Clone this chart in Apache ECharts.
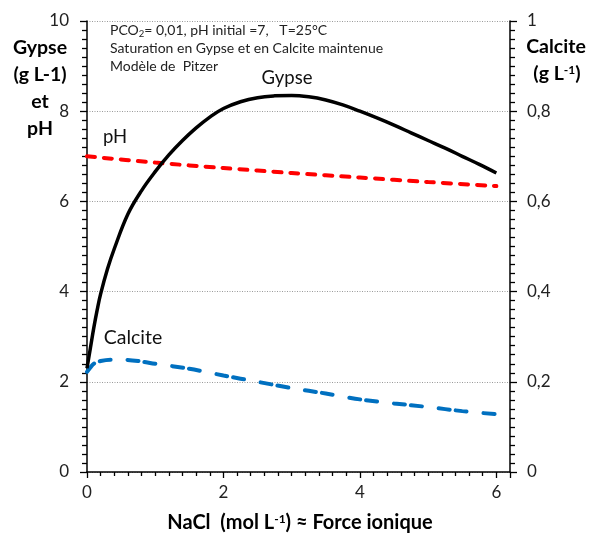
<!DOCTYPE html>
<html>
<head>
<meta charset="utf-8">
<script src="https://cdn.jsdelivr.net/npm/echarts@6/dist/echarts.min.js"></script>
<style>html,body{margin:0;padding:0;background:#fff}#c{width:603px;height:538px}</style>
</head>
<body>
<div id="c"></div>
<script>
// NaCl (mol/L) and values
const gypseX = [0, 0.05, 0.1, 0.15, 0.2, 0.3, 0.4, 0.6, 0.8, 1.0, 1.2, 1.4, 1.6, 1.8, 2.0, 2.25, 2.5, 2.75, 3.0, 3.25, 3.5, 3.75, 4.0, 4.25, 4.5, 4.75, 5.0, 5.25, 5.5, 5.75, 6.0];
const gypseY = [2.3, 2.75, 3.2, 3.6, 3.95, 4.5, 4.95, 5.72, 6.24, 6.66, 7.03, 7.35, 7.63, 7.87, 8.06, 8.21, 8.3, 8.34, 8.35, 8.32, 8.25, 8.14, 8.0, 7.85, 7.69, 7.52, 7.35, 7.18, 7.0, 6.82, 6.63];
const phX = [0, 1, 2, 3, 4, 5, 6];
const phY = [7.0, 6.86, 6.74, 6.63, 6.53, 6.43, 6.34];
const calciteX = [0, 0.05, 0.1, 0.2, 0.35, 0.5, 0.75, 1.0, 1.5, 2.0, 2.5, 3.0, 3.5, 4.0, 4.5, 5.0, 5.5, 6.0];
const calciteY = [0.222, 0.232, 0.240, 0.246, 0.249, 0.249, 0.246, 0.240, 0.229, 0.214, 0.200, 0.186, 0.174, 0.161, 0.152, 0.144, 0.135, 0.128];
const xTicks = [0, 2, 4, 6];
const leftTicks = [0, 2, 4, 6, 8, 10];
const rightTicks = [0, 0.2, 0.4, 0.6, 0.8, 1];

const pairs = (xs, ys) => xs.map((x, i) => [x, ys[i]]);
const FF = 'Lato, "Open Sans", sans-serif';
const chart = echarts.init(document.getElementById('c'), null, {renderer: 'canvas'});

chart.setOption({
  animation: false,
  backgroundColor: '#fff',
  textStyle: {fontFamily: FF},
  grid: {left: 87, right: 93, top: 21, bottom: 66, containLabel: false},
  xAxis: {
    type: 'value', min: 0, max: 6.2, interval: 2,
    axisLine: {lineStyle: {color: '#000', width: 1.5}},
    axisTick: {show: true, inside: false, length: 6, lineStyle: {color: '#000', width: 1.3}},
    minorTick: {show: true, splitNumber: 10, length: 4, lineStyle: {color: '#000', width: 1.3}},
    axisLabel: {fontSize: 17, color: '#222', margin: 12, fontFamily: FF,
      formatter: v => xTicks.includes(v) ? String(v) : ''},
    splitLine: {show: false}
  },
  yAxis: [{
    type: 'value', min: 0, max: 10, interval: 2,
    axisLine: {show: true, lineStyle: {color: '#000', width: 1.5}},
    axisTick: {show: true, inside: false, length: 7, lineStyle: {color: '#000', width: 1.3}},
    minorTick: {show: true, splitNumber: 10, length: 5, lineStyle: {color: '#000', width: 1.3}},
    axisLabel: {fontSize: 17, color: '#222', margin: 18, fontFamily: FF,
      formatter: v => leftTicks.includes(v) ? String(v) : ''},
    splitLine: {show: true, lineStyle: {color: '#9a9a9a', type: [1, 1.5], width: 1}}
  }, {
    type: 'value', min: 0, max: 1, interval: 0.2, position: 'right',
    axisLine: {show: true, lineStyle: {color: '#000', width: 1.5}},
    axisTick: {show: true, inside: false, length: 7, lineStyle: {color: '#000', width: 1.3}},
    minorTick: {show: true, splitNumber: 10, length: 5, lineStyle: {color: '#000', width: 1.3}},
    axisLabel: {fontSize: 17, color: '#222', margin: 17, fontFamily: FF,
      formatter: v => {
        const t = rightTicks.find(r => Math.abs(r - v) < 1e-9);
        return t === undefined ? '' : String(+t.toFixed(1)).replace('.', ',');
      }},
    splitLine: {show: false}
  }],
  series: [
    {name: 'Gypse', type: 'line', data: pairs(gypseX, gypseY), smooth: 0.4, showSymbol: false, symbol: 'none',
      lineStyle: {color: '#000', width: 3.5}, z: 3},
    {name: 'pH', type: 'line', data: pairs(phX, phY), smooth: 0.3, showSymbol: false, symbol: 'none',
      lineStyle: {color: '#ff0000', width: 4, type: [8, 9], cap: 'round'}, z: 2},
    {name: 'Calcite', type: 'line', yAxisIndex: 1, data: pairs(calciteX, calciteY), smooth: 0.3, showSymbol: false, symbol: 'none',
      lineStyle: {color: '#0070c0', width: 4, type: [11, 6, 11, 17], cap: 'round'}, z: 2}
  ],
  graphic: [
    {type: 'text', left: 110, top: 23, style: {
      text: '{a|PCO}{s|2}{a|= 0,01, pH initial =7,   T=25°C}',
      rich: {a: {fontSize: 14, fontFamily: FF, fill: '#222'}, s: {fontSize: 9.5, fontFamily: FF, fill: '#222', padding: [8, 0, 0, 0]}}}},
    {type: 'text', left: 110, top: 41, style: {text: 'Saturation en Gypse et en Calcite maintenue', fontSize: 14, fontFamily: FF, fill: '#222'}},
    {type: 'text', left: 110, top: 59, style: {text: 'Modèle de  Pitzer', fontSize: 14, fontFamily: FF, fill: '#222'}},
    {type: 'text', x: 40, y: 88, style: {text: 'Gypse\n(g L-1)\net\npH', fontSize: 19.5, fontWeight: 'bold', fontFamily: FF,
      fill: '#000', align: 'center', verticalAlign: 'middle', lineHeight: 27}},
    {type: 'text', x: 556, y: 47, style: {text: 'Calcite', fontSize: 19.5, fontWeight: 'bold', fontFamily: FF,
      fill: '#000', align: 'center', verticalAlign: 'middle'}},
    {type: 'text', x: 557, y: 74, style: {text: '{b|(g L}{p|-1}{b|)}', align: 'center', verticalAlign: 'middle',
      rich: {b: {fontSize: 19.5, fontWeight: 'bold', fontFamily: FF, fill: '#000'},
             p: {fontSize: 12, fontWeight: 'bold', fontFamily: FF, fill: '#000', padding: [0, 0, 8, 0]}}}},
    {type: 'text', x: 300, y: 523, style: {text: '{b|NaCl  (mol L}{p|-1}{b|) ≈ Force ionique}', align: 'center', verticalAlign: 'middle',
      rich: {b: {fontSize: 20, fontWeight: 'bold', fontFamily: FF, fill: '#000'},
             p: {fontSize: 12, fontWeight: 'bold', fontFamily: FF, fill: '#000', padding: [0, 0, 8, 0]}}}},
    {type: 'text', x: 287, y: 78, style: {text: 'Gypse', fontSize: 18.5, fontFamily: FF, fill: '#111', align: 'center', verticalAlign: 'middle'}},
    {type: 'text', x: 115, y: 137, style: {text: 'pH', fontSize: 18.5, fontFamily: FF, fill: '#111', align: 'center', verticalAlign: 'middle'}},
    {type: 'text', x: 133, y: 338, style: {text: 'Calcite', fontSize: 19.5, fontFamily: FF, fill: '#111', align: 'center', verticalAlign: 'middle'}}
  ]
});
</script>
</body>
</html>
